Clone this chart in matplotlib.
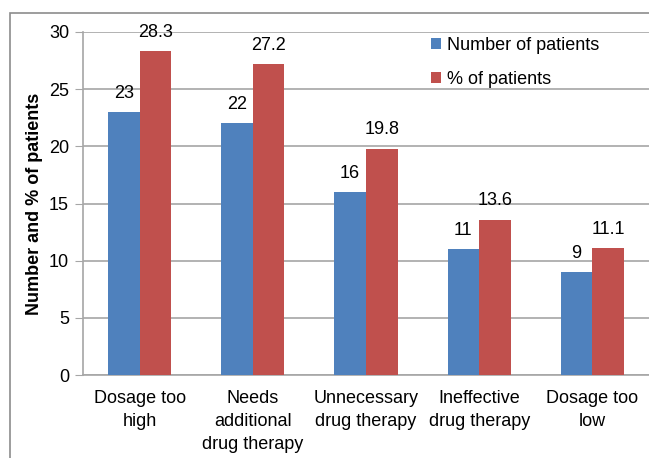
import matplotlib
matplotlib.use("Agg")
import matplotlib.pyplot as plt
import numpy as np
from matplotlib.patches import Rectangle

categories = ["Dosage too\nhigh", "Needs\nadditional\ndrug therapy",
              "Unnecessary\ndrug therapy", "Ineffective\ndrug therapy",
              "Dosage too\nlow"]
num_patients = [23, 22, 16, 11, 9]
pct_patients = [28.3, 27.2, 19.8, 13.6, 11.1]
pct_labels = ["28.3", "27.2", "19.8", "13.6", "11.1"]

plt.rcParams['font.family'] = ['Liberation Sans', 'DejaVu Sans']

fig = plt.figure(figsize=(6.49, 4.58), dpi=100)
ax = fig.add_axes([83/649, 1-375/458, 1-83/649, (375-32)/458])

# outer chart frame
fig.patches.append(Rectangle((10/649, -0.05), 1.0, 1-13/458+0.05,
                             transform=fig.transFigure, fill=False,
                             edgecolor="#8c8c8c", linewidth=1.2))

x = np.arange(len(categories))
w = 0.28
blue = "#4F81BD"
red = "#C0504D"
ax.bar(x - w/2, num_patients, w, color=blue, label="Number of patients", zorder=3)
ax.bar(x + w/2, pct_patients, w, color=red, label="% of patients", zorder=3)

for xi, v in zip(x, num_patients):
    ax.text(xi - w/2, v + 0.9, str(v), ha="center", va="bottom", fontsize=13)
for xi, v, s in zip(x, pct_patients, pct_labels):
    ax.text(xi + w/2, v + 0.9, s, ha="center", va="bottom", fontsize=13)

ax.set_xlim(-0.5, 4.5)
ax.set_ylim(0, 30)
ax.set_yticks(range(0, 31, 5))
ax.yaxis.grid(True, color="#a6a6a6", linewidth=1.2, zorder=0)
ax.set_axisbelow(True)
ax.set_xticks(x)
ax.set_xticklabels(categories, fontsize=13, linespacing=1.45)
ax.tick_params(axis="y", labelsize=13, length=6, color="#a6a6a6", direction="out", pad=4)
ax.tick_params(axis="x", length=0, pad=11)
for s in ["top", "right"]:
    ax.spines[s].set_visible(False)
for s in ["left", "bottom"]:
    ax.spines[s].set_color("#a6a6a6")
    ax.spines[s].set_linewidth(1.2)

ax.set_ylabel("Number and % of patients", fontsize=13, fontweight="bold", labelpad=4)

ax.legend(loc="upper left", bbox_to_anchor=(0.587, 1.033), frameon=False,
          fontsize=13, handlelength=0.55, handleheight=0.55,
          handletextpad=0.3, labelspacing=0.95)

fig.savefig("out.png", dpi=100)
